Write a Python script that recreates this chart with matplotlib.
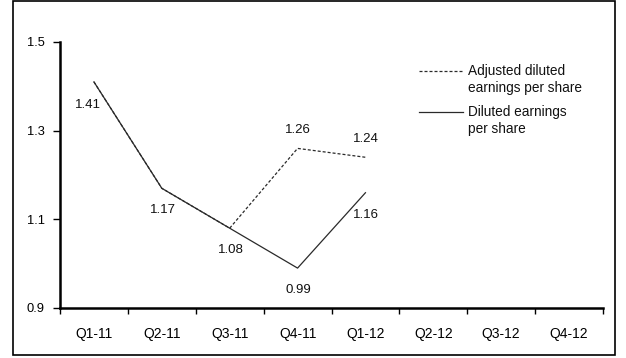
import matplotlib.pyplot as plt
from matplotlib.patches import Rectangle
from matplotlib.lines import Line2D

plt.rcParams['font.family'] = ['Liberation Sans', 'DejaVu Sans']

quarters = ['Q1-11', 'Q2-11', 'Q3-11', 'Q4-11', 'Q1-12', 'Q2-12', 'Q3-12', 'Q4-12']
diluted = [1.41, 1.17, 1.08, 0.99, 1.16]
adjusted = [1.41, 1.17, 1.08, 1.26, 1.24]
series_names = ['Adjusted diluted\nearnings per share', 'Diluted earnings\nper share']

W, H = 626, 358
fig = plt.figure(figsize=(W / 100, H / 100), dpi=100)
# axes box in pixels: left 60, right 603, top 42, bottom 308
ax = fig.add_axes([60 / W, 1 - 308 / H, (603 - 60) / W, (308 - 42) / H])

# outer frame around the whole chart
fig.patches.append(Rectangle((12.5 / W, 1 - 354.5 / H), (615 - 12.5) / W, 354 / H,
                             transform=fig.transFigure, fill=False,
                             edgecolor='black', linewidth=1.2))

x = list(range(len(quarters)))
line_col = '#2a2a2a'
dash = (0, (2.4, 1.6))
ax.plot(x[:len(adjusted)], adjusted, color=line_col, linewidth=0.9, linestyle=dash)
ax.plot(x[:len(diluted)], diluted, color=line_col, linewidth=0.9)

# value labels
fs = 9.5
lab = dict(fontsize=fs, ha='center', va='center', color='#111111')
ax.annotate(f'{diluted[0]:.2f}', (x[0], diluted[0]), xytext=(-6, -23), textcoords='offset pixels', **lab)
for i in (1, 2, 3, 4):
    ax.annotate(f'{diluted[i]:.2f}', (x[i], diluted[i]), xytext=(1, -22), textcoords='offset pixels', **lab)
for i in (3, 4):
    ax.annotate(f'{adjusted[i]:.2f}', (x[i], adjusted[i]), xytext=(0, 18), textcoords='offset pixels', **lab)

ax.set_xlim(-0.5, len(quarters) - 0.5)
ax.set_ylim(0.9, 1.5)
ax.set_yticks([0.9, 1.1, 1.3, 1.5])
ax.set_yticklabels(['0.9', '1.1', '1.3', '1.5'])
ax.set_xticks([i + 0.5 for i in range(-1, len(quarters))])
ax.set_xticklabels([])
ax.set_xticks(x, minor=True)
ax.set_xticklabels(quarters, minor=True)
ax.tick_params(axis='x', which='minor', length=0, pad=14, labelsize=10)
ax.tick_params(axis='x', which='major', length=4, width=1, direction='out')
ax.tick_params(axis='y', length=5, width=1, direction='out', pad=6, labelsize=9.3)

for s in ('top', 'right'):
    ax.spines[s].set_visible(False)
for s in ('left', 'bottom'):
    ax.spines[s].set_linewidth(1.8)

# legend drawn by hand so each key sits on the first text line
styles = [dash, '-']
rows = [71, 112]
for name, ls, yp in zip(series_names, styles, rows):
    fy = 1 - yp / H
    fig.add_artist(Line2D([419 / W, 463 / W], [fy, fy], transform=fig.transFigure,
                          color=line_col, linewidth=0.9, linestyle=ls))
    fig.text(468 / W, 1 - (yp - 7) / H, name, fontsize=9.8, ha='left', va='top',
             linespacing=1.25, color='#111111')

fig.savefig('out.png', dpi=100)
